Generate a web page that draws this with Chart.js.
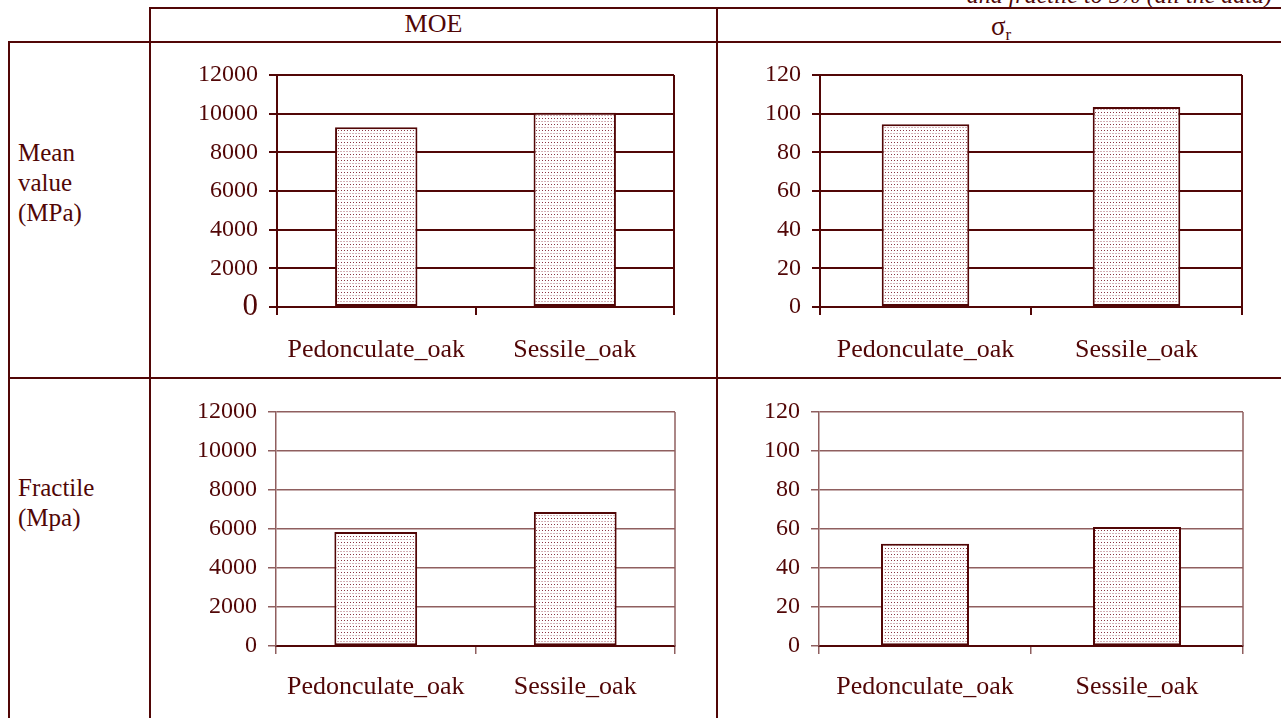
<!DOCTYPE html>
<html>
<head>
<meta charset="utf-8">
<script src="https://cdn.jsdelivr.net/npm/chart.js@4"></script>
<style>
  body {
    margin: 0;
    width: 1281px;
    height: 718px;
    overflow: hidden;
    position: relative;
    background: #fff;
    font-family: 'Liberation Serif', 'Times New Roman', serif;
    color: #510606;
  }
  .rule { position: absolute; background: #510606; }
  .txt { position: absolute; white-space: nowrap; }
  canvas { position: absolute; }
</style>
</head>
<body>

<!-- table frame -->
<div class="rule" style="left:150px; top:7px; width:1131px; height:2px;"></div>
<div class="rule" style="left:8px; top:41px; width:1273px; height:2px;"></div>
<div class="rule" style="left:8px; top:377px; width:1273px; height:2px;"></div>
<div class="rule" style="left:8px; top:41px; width:2px; height:677px;"></div>
<div class="rule" style="left:149px; top:7px; width:2px; height:711px;"></div>
<div class="rule" style="left:716px; top:7px; width:2px; height:711px;"></div>

<div class="txt" style="right:9px; top:-18px; font-size:24px; font-style:italic;">and fractile to 5% (all the data)</div>
<div class="txt" style="left:150px; width:567px; top:11px; font-size:26px; line-height:26px; text-align:center;">MOE</div>
<div class="txt" style="left:719px; width:564px; top:13px; font-size:27px; line-height:27px; text-align:center;">σ<span style="font-size:17px; position:relative; top:5px;">r</span></div>

<div class="txt" style="left:18px; top:138px; font-size:25px; line-height:30px;">Mean<br>value<br>(MPa)</div>
<div class="txt" style="left:18px; top:473px; font-size:25px; line-height:30px;">Fractile<br>(Mpa)</div>

<canvas id="moeMeanChart" width="530" height="325" style="left:160px; top:45px;"></canvas>
<canvas id="sigmaMeanChart" width="540" height="325" style="left:725px; top:45px;"></canvas>
<canvas id="moeFractileChart" width="530" height="330" style="left:160px; top:385px;"></canvas>
<canvas id="sigmaFractileChart" width="540" height="330" style="left:725px; top:385px;"></canvas>

<script>
// species on the x axis
const species = ['Pedonculate_oak', 'Sessile_oak'];

// mean values (MPa)
const moeMean = [9300, 10050];
const sigmaMean = [94.5, 103.5];

// 5% fractiles (MPa)
const moeFractile = [5850, 6870];
const sigmaFractile = [52.5, 61];

// y axis ranges
const moeAxis = { max: 12000, step: 2000 };
const sigmaAxis = { max: 120, step: 20 };

const maroon = '#510606';
const paleMaroon = '#8f5f5f';
const serif = "'Liberation Serif', 'Times New Roman', serif";

// stippled fill for the bars
function dotPattern() {
  const c = document.createElement('canvas');
  c.width = 6;
  c.height = 6;
  const g = c.getContext('2d');
  g.fillStyle = '#ffffff';
  g.fillRect(0, 0, 6, 6);
  g.fillStyle = '#8a3444';
  g.fillRect(1, 1, 1, 1);
  g.fillRect(4, 1, 1, 1);
  g.fillStyle = '#d4b2b7';
  g.fillRect(0, 4, 2, 1);
  g.fillRect(3, 4, 2, 1);
  return g.createPattern(c, 'repeat');
}
const dots = dotPattern();

// closes the plot box on the right side
const rightEdge = {
  id: 'rightEdge',
  afterDraw(chart, args, opts) {
    const a = chart.chartArea;
    const ctx = chart.ctx;
    ctx.save();
    ctx.strokeStyle = opts.color;
    ctx.lineWidth = opts.width;
    ctx.beginPath();
    ctx.moveTo(a.right, a.top);
    ctx.lineTo(a.right, a.bottom);
    ctx.stroke();
    ctx.restore();
  }
};

function makeChart(id, values, axis, box, heavy, bigZero) {
  const lineColor = heavy ? maroon : paleMaroon;
  const lineWidth = heavy ? 2 : 1.5;
  return new Chart(document.getElementById(id).getContext('2d'), {
    type: 'bar',
    data: {
      labels: species,
      datasets: [{
        data: values,
        backgroundColor: dots,
        borderColor: maroon,
        borderWidth: 2,
        borderSkipped: false,
        barPercentage: 0.415,
        categoryPercentage: 1
      }]
    },
    options: {
      responsive: false,
      animation: false,
      layout: { padding: { top: box.top, right: box.right, left: 0, bottom: 0 } },
      plugins: {
        legend: { display: false },
        tooltip: { enabled: false },
        rightEdge: { color: lineColor, width: lineWidth }
      },
      scales: {
        x: {
          grid: {
            offset: true,
            drawOnChartArea: false,
            tickLength: 8,
            color: lineColor,
            lineWidth: lineWidth
          },
          border: { color: maroon, width: 2 },
          ticks: {
            color: maroon,
            padding: box.labelPad,
            font: { family: serif, size: 26 }
          },
          afterFit: s => { s.height = box.xHeight; }
        },
        y: {
          min: 0,
          max: axis.max,
          grid: { color: lineColor, lineWidth: lineWidth, tickLength: 8 },
          border: { color: lineColor, width: lineWidth },
          ticks: {
            stepSize: axis.step,
            autoSkip: false,
            color: maroon,
            padding: 11,
            callback: v => String(v),
            font: c => ({ family: serif, size: (bigZero && c.tick && c.tick.value === 0) ? 31 : 24 })
          },
          afterFit: s => { s.width = box.yWidth; }
        }
      }
    },
    plugins: [rightEdge]
  });
}

makeChart('moeMeanChart', moeMean, moeAxis,
  { top: 30, right: 16, yWidth: 117, xHeight: 63, labelPad: 20 }, true, true);
makeChart('sigmaMeanChart', sigmaMean, sigmaAxis,
  { top: 30, right: 23, yWidth: 95, xHeight: 63, labelPad: 20 }, true, false);
makeChart('moeFractileChart', moeFractile, moeAxis,
  { top: 27, right: 15, yWidth: 116, xHeight: 69, labelPad: 18 }, false, false);
makeChart('sigmaFractileChart', sigmaFractile, sigmaAxis,
  { top: 27, right: 22, yWidth: 94, xHeight: 69, labelPad: 18 }, false, false);
</script>
</body>
</html>
